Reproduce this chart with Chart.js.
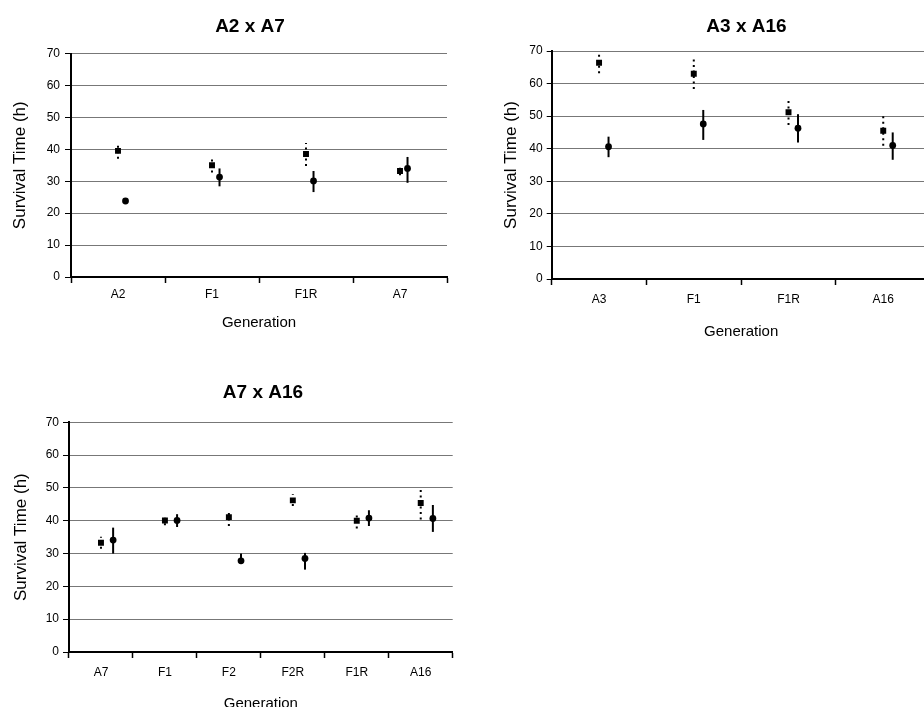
<!DOCTYPE html>
<html>
<head>
<meta charset="utf-8">
<script src="https://cdn.jsdelivr.net/npm/chart.js@4.4.1/dist/chart.umd.min.js"></script>
<style>
  html, body { margin: 0; padding: 0; background: #fff; overflow: hidden; width: 924px; height: 707px; }
  canvas { position: absolute; }
</style>
</head>
<body>
<canvas id="c1" width="500" height="337" style="left:0px;top:0px"></canvas>
<canvas id="c2" width="513" height="341" style="left:490px;top:0px"></canvas>
<canvas id="c3" width="526" height="354" style="left:0px;top:360px"></canvas>
<script>
// A2 x A7
const cats1 = ['A2', 'F1', 'F1R', 'A7'];
const sq1 = [39.5, 35.0, 38.5, 33.2];
const sq_lo1 = [37.0, 32.7, 34.8, 31.9];
const sq_hi1 = [41.6, 37.9, 42.0, 34.8];
const ci1 = [23.8, 31.3, 30.1, 34.0];
const ci_lo1 = [23.8, 28.4, 26.6, 29.5];
const ci_hi1 = [23.8, 34.0, 33.2, 37.6];

// A3 x A16
const cats2 = ['A3', 'F1', 'F1R', 'A16'];
const sq2 = [66.4, 63.0, 51.2, 45.5];
const sq_lo2 = [63.2, 58.3, 47.3, 40.9];
const sq_hi2 = [69.8, 68.1, 55.0, 50.4];
const ci2 = [40.6, 47.6, 46.3, 41.0];
const ci_lo2 = [37.4, 42.7, 41.9, 36.6];
const ci_hi2 = [43.7, 51.9, 50.6, 45.0];

// A7 x A16
const cats3 = ['A7', 'F1', 'F2', 'F2R', 'F1R', 'A16'];
const sq3 = [33.3, 40.1, 41.1, 46.2, 40.0, 45.4];
const sq_lo3 = [31.5, 38.6, 38.4, 44.5, 37.6, 40.4];
const sq_hi3 = [35.1, 41.4, 43.4, 48.1, 42.4, 49.8];
const ci3 = [34.1, 40.1, 27.8, 28.5, 40.8, 40.7];
const ci_lo3 = [30.0, 38.1, 27.0, 25.1, 38.4, 36.6];
const ci_hi3 = [37.9, 42.0, 30.0, 30.2, 43.2, 44.8];

const y_ticks = [0, 10, 20, 30, 40, 50, 60, 70];

const FONT = "'Liberation Sans', Arial, sans-serif";

// draws the vertical error bars under the points
const error_bars = {
    id: 'error_bars',
    beforeDatasetsDraw(chart) {
        const ctx = chart.ctx;
        const y = chart.scales.y;
        chart.data.datasets.forEach(function(ds, i) {
            const meta = chart.getDatasetMeta(i);
            ctx.save();
            ctx.strokeStyle = '#000';
            ctx.lineWidth = ds.barWidth;
            ctx.setLineDash(ds.barDash);
            meta.data.forEach(function(pt, j) {
                const lo = ds.errLo[j];
                const hi = ds.errHi[j];
                if (lo === hi) return;
                ctx.beginPath();
                ctx.moveTo(pt.x, y.getPixelForValue(lo));
                ctx.lineTo(pt.x, y.getPixelForValue(hi));
                ctx.stroke();
            });
            ctx.restore();
        });
    }
};

function make_panel(id, p) {
    const n = p.cats.length;
    new Chart(document.getElementById(id), {
        type: 'scatter',
        data: {
            datasets: [
                {
                    data: p.sq.map((v, i) => ({x: i, y: v})),
                    errLo: p.sqLo, errHi: p.sqHi,
                    barDash: [2, 3.5], barWidth: 2,
                    xAxisID: 'x', yAxisID: 'y',
                    pointStyle: 'rect', pointRadius: 4.2,
                    backgroundColor: '#000', borderColor: '#000', borderWidth: 0
                },
                {
                    data: p.ci.map((v, i) => ({x: i + p.shift, y: v})),
                    errLo: p.ciLo, errHi: p.ciHi,
                    barDash: [], barWidth: 2,
                    xAxisID: 'x', yAxisID: 'y',
                    pointStyle: 'circle', pointRadius: 3.4,
                    backgroundColor: '#000', borderColor: '#000', borderWidth: 0
                }
            ]
        },
        options: {
            responsive: false,
            animation: false,
            layout: {padding: 0},
            plugins: {
                legend: {display: false},
                tooltip: {enabled: false},
                title: {
                    display: true, text: p.title, color: '#000',
                    font: {family: FONT, size: 19, weight: 'bold'},
                    padding: {top: p.tTop, bottom: p.tBottom}
                }
            },
            scales: {
                x: {type: 'linear', min: -0.5, max: n - 0.5, display: false},
                cat: {
                    type: 'category', labels: p.cats, position: 'bottom', offset: true,
                    grid: {offset: true, drawOnChartArea: false, tickLength: 6, tickColor: '#000', tickWidth: 1.5},
                    border: {color: '#000', width: 2},
                    ticks: {color: '#000', font: {family: FONT, size: 12}, padding: p.catPad},
                    title: {display: true, text: 'Generation', color: '#000',
                        font: {family: FONT, size: 15}, padding: {top: 0, bottom: p.genPad}},
                    afterFit(s) { s.height = p.bottomH; }
                },
                y: {
                    min: 0, max: 70,
                    afterBuildTicks(s) { s.ticks = y_ticks.map(v => ({value: v})); },
                    ticks: {color: '#000', font: {family: FONT, size: 12}, padding: p.yPad},
                    grid: {color: '#777', lineWidth: 1, tickColor: '#000', tickLength: p.yTick},
                    border: {color: '#000', width: 2},
                    title: {display: true, text: 'Survival Time (h)', color: '#000',
                        font: {family: FONT, size: 17}, padding: {top: p.yTitlePad, bottom: 0}},
                    afterFit(s) { s.width = p.yWidth; }
                },
                pad: {
                    type: 'linear', position: 'right',
                    ticks: {display: false}, grid: {display: false}, border: {display: false},
                    afterFit(s) { s.width = p.rightPad; }
                }
            }
        },
        plugins: [error_bars]
    });
}

make_panel('c1', {
    title: 'A2 x A7', cats: cats1,
    sq: sq1, sqLo: sq_lo1, sqHi: sq_hi1, ci: ci1, ciLo: ci_lo1, ciHi: ci_hi1,
    shift: 0.08, tTop: 15.4, tBottom: 15.3, yWidth: 71, yTick: 6, yPad: 5,
    yTitlePad: 9.8, catPad: 4, genPad: 5, bottomH: 60, rightPad: 53
});

make_panel('c2', {
    title: 'A3 x A16', cats: cats2,
    sq: sq2, sqLo: sq_lo2, sqHi: sq_hi2, ci: ci2, ciLo: ci_lo2, ciHi: ci_hi2,
    shift: 0.1, tTop: 15.4, tBottom: 12.8, yWidth: 61.7, yTick: 5, yPad: 4,
    yTitlePad: 11.5, catPad: 7, genPad: 0.3, bottomH: 62, rightPad: 72.4
});

make_panel('c3', {
    title: 'A7 x A16', cats: cats3,
    sq: sq3, sqLo: sq_lo3, sqHi: sq_hi3, ci: ci3, ciLo: ci_lo3, ciHi: ci_hi3,
    shift: 0.19, tTop: 21.5, tBottom: 18, yWidth: 69, yTick: 6, yPad: 4,
    yTitlePad: 11.5, catPad: 7.5, genPad: 1, bottomH: 62, rightPad: 73.3
});
</script>
</body>
</html>
